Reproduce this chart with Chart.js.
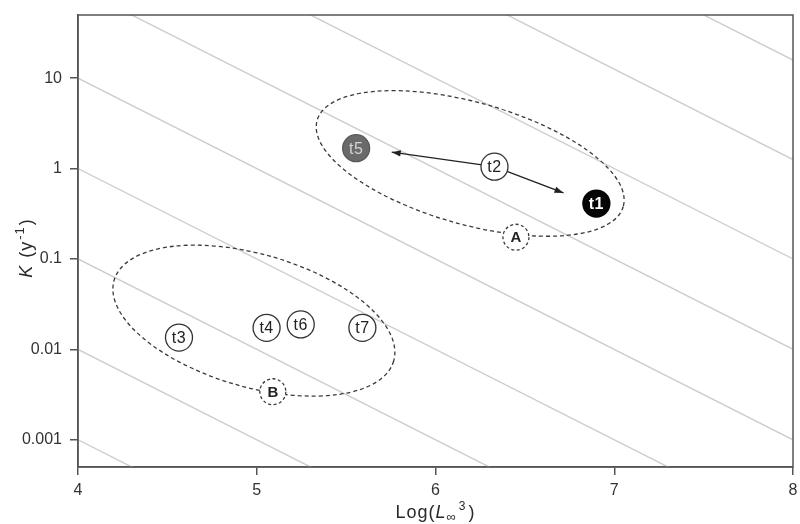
<!DOCTYPE html>
<html>
<head>
<meta charset="utf-8">
<script src="https://cdn.jsdelivr.net/npm/chart.js@4.4.0/dist/chart.umd.min.js"></script>
<style>
  html, body { margin: 0; padding: 0; background: #fff; overflow: hidden; }
  #c { display: block; }
</style>
</head>
<body>
<canvas id="c" width="800" height="524"></canvas>
<script>
// Samples: log10 of asymptotic length cubed vs. growth coefficient K (per year)
const sampleNames = ['t1', 't2', 't3', 't4', 't5', 't6', 't7'];
const logLinf3   = [6.90, 6.33, 4.565, 5.055, 5.556, 5.246, 5.591];
const kValues    = [0.41, 1.05, 0.0135, 0.0173, 1.68, 0.0189, 0.0173];

// Group centroids
const groupNames = ['A', 'B'];
const groupX     = [6.45, 5.09];
const groupK     = [0.174, 0.0034];

// Group envelopes (centre of each dashed ellipse)
const envelopeX  = [6.194, 4.984];
const envelopeK  = [1.14, 0.0208];

// Iso-lines of log10(K) + log10(L∞³)
const isoLevels  = [1, 2, 3, 4, 5, 6, 7, 8.1, 9.2];

// Shifts from t2 towards t5 and t1 (arrow tips)
const arrowFrom  = 't2';
const arrowTo    = ['t5', 't1'];
const arrowTipX  = [5.755, 6.716];
const arrowTipK  = [1.52, 0.538];

// Axis ticks
const xTickValues = [4, 5, 6, 7, 8];
const yTickValues = [0.001, 0.01, 0.1, 1, 10];
const yTickLabels = ['0.001', '0.01', '0.1', '1', '10'];

const FONT = '"Liberation Sans", Arial, sans-serif';
const INK = '#2a2a2a';
const AXIS = '#555555';

const fillFor = n => n === 't1' ? '#050505' : n === 't5' ? '#6a6a6a' : '#ffffff';
const textFor = n => n === 't1' ? '#ffffff' : n === 't5' ? '#d4d4d4' : '#222222';

const fromIdx = sampleNames.indexOf(arrowFrom);

const datasets = [];
// samples (drawn on top)
datasets.push({
  type: 'scatter',
  role: 'samples',
  data: sampleNames.map((n, i) => ({ x: logLinf3[i], y: kValues[i] })),
  pointRadius: 13.5,
  pointHoverRadius: 13.5,
  pointBackgroundColor: sampleNames.map(fillFor),
  pointBorderColor: sampleNames.map(n => n === 't1' ? '#050505' : n === 't5' ? '#5a5a5a' : '#333333'),
  pointBorderWidth: 1.3,
  showLine: false
});
// arrows
arrowTo.forEach((t, j) => {
  datasets.push({
    type: 'line',
    role: 'arrow',
    data: [
      { x: logLinf3[fromIdx], y: kValues[fromIdx] },
      { x: arrowTipX[j], y: arrowTipK[j] }
    ],
    borderColor: '#222222',
    borderWidth: 1.4,
    pointRadius: 0,
    fill: false
  });
});
// iso-lines (drawn first)
isoLevels.forEach(c => {
  datasets.push({
    type: 'line',
    role: 'iso',
    data: [
      { x: 4, y: Math.pow(10, c - 4) },
      { x: 8, y: Math.pow(10, c - 8) }
    ],
    borderColor: '#cdcdcd',
    borderWidth: 1.4,
    pointRadius: 0,
    fill: false
  });
});

let envelopesDrawn = false;

function drawEnvelopes(chart) {
  const ctx = chart.ctx;
  const xs = chart.scales.x, ys = chart.scales.y;
  // pixel radii and tilt of each envelope
  const shape = [
    { a: 159, b: 61, rot: 15.7 },
    { a: 145.5, b: 66.4, rot: 16.1 }
  ];
  ctx.save();
  ctx.strokeStyle = '#3a3a3a';
  ctx.lineWidth = 1.3;
  ctx.setLineDash([4, 3]);
  envelopeX.forEach((x, i) => {
    const px = xs.getPixelForValue(x), py = ys.getPixelForValue(envelopeK[i]);
    ctx.beginPath();
    ctx.ellipse(px, py, shape[i].a, shape[i].b, shape[i].rot * Math.PI / 180, 0, Math.PI * 2);
    ctx.stroke();
  });
  // dashed centroid markers
  groupNames.forEach((g, i) => {
    const px = xs.getPixelForValue(groupX[i]), py = ys.getPixelForValue(groupK[i]);
    ctx.beginPath();
    ctx.arc(px, py, 13, 0, Math.PI * 2);
    ctx.fillStyle = '#ffffff';
    ctx.fill();
    ctx.setLineDash([3, 2.5]);
    ctx.stroke();
    ctx.fillStyle = '#222222';
    ctx.font = 'bold 15px ' + FONT;
    ctx.textAlign = 'center';
    ctx.textBaseline = 'middle';
    ctx.fillText(g, px, py + 1);
  });
  ctx.restore();
}

const decorations = {
  id: 'decorations',
  beforeDraw() { envelopesDrawn = false; },
  beforeDatasetDraw(chart, args) {
    if (!envelopesDrawn && chart.data.datasets[args.index].role === 'arrow') {
      drawEnvelopes(chart);
      envelopesDrawn = true;
    }
  },
  afterDatasetsDraw(chart) {
    const ctx = chart.ctx;
    const xs = chart.scales.x, ys = chart.scales.y;
    ctx.save();
    // arrow heads
    const fx = xs.getPixelForValue(logLinf3[fromIdx]), fy = ys.getPixelForValue(kValues[fromIdx]);
    arrowTipX.forEach((x, j) => {
      const tx = xs.getPixelForValue(x), ty = ys.getPixelForValue(arrowTipK[j]);
      const ang = Math.atan2(ty - fy, tx - fx);
      const L = 9, W = 3.2;
      ctx.beginPath();
      ctx.moveTo(tx, ty);
      ctx.lineTo(tx - L * Math.cos(ang) + W * Math.sin(ang), ty - L * Math.sin(ang) - W * Math.cos(ang));
      ctx.lineTo(tx - L * Math.cos(ang) - W * Math.sin(ang), ty - L * Math.sin(ang) + W * Math.cos(ang));
      ctx.closePath();
      ctx.fillStyle = '#222222';
      ctx.fill();
    });
    // sample labels
    ctx.textAlign = 'center';
    ctx.textBaseline = 'middle';
    ctx.letterSpacing = '0.5px';
    sampleNames.forEach((n, i) => {
      const px = xs.getPixelForValue(logLinf3[i]), py = ys.getPixelForValue(kValues[i]);
      ctx.fillStyle = textFor(n);
      ctx.font = (n === 't1' ? 'bold ' : '') + '16px ' + FONT;
      ctx.fillText(n, px, py + 1);
    });
    ctx.restore();
  },
  afterDraw(chart) {
    const ctx = chart.ctx;
    const a = chart.chartArea;
    ctx.save();
    // frame
    ctx.strokeStyle = AXIS;
    ctx.lineWidth = 1.5;
    ctx.strokeRect(a.left, a.top, a.right - a.left, a.bottom - a.top);

    ctx.fillStyle = INK;
    ctx.textBaseline = 'alphabetic';
    ctx.textAlign = 'left';
    ctx.letterSpacing = '1px';
    // x title: Log(L∞³)
    const big = '18px ' + FONT, bigIt = 'italic 18px ' + FONT, small = '12px ' + FONT, sub = '13px ' + FONT;
    const xParts = [
      { t: 'Log(', f: big, dy: 0, gap: 0 },
      { t: 'L', f: bigIt, dy: 0, gap: 0 },
      { t: '\u221E', f: sub, dy: 3, gap: 2 },
      { t: '3', f: small, dy: -8, gap: 2 },
      { t: ')', f: big, dy: 0, gap: 0 }
    ];
    let w = 0;
    xParts.forEach(p => { ctx.font = p.f; p.w = ctx.measureText(p.t).width + p.gap; w += p.w; });
    let x0 = (a.left + a.right) / 2 - w / 2;
    const by = 518;
    xParts.forEach(p => { ctx.font = p.f; ctx.fillText(p.t, x0, by + p.dy); x0 += p.w; });

    // y title: K (y⁻¹)
    const yParts = [
      { t: 'K', f: bigIt, dy: 0, gap: 1 },
      { t: ' (y', f: big, dy: 0, gap: 1 },
      { t: '-1', f: '13px ' + FONT, dy: -8, gap: 1 },
      { t: ')', f: big, dy: 0, gap: 0 }
    ];
    w = 0;
    yParts.forEach(p => { ctx.font = p.f; p.w = ctx.measureText(p.t).width + p.gap; w += p.w; });
    ctx.translate(32, 248);
    ctx.rotate(-Math.PI / 2);
    x0 = -w / 2;
    yParts.forEach(p => { ctx.font = p.f; ctx.fillText(p.t, x0, p.dy); x0 += p.w; });
    ctx.restore();
  }
};

new Chart(document.getElementById('c'), {
  type: 'scatter',
  data: { datasets },
  options: {
    responsive: false,
    animation: false,
    events: [],
    layout: { autoPadding: false, padding: { top: 15, right: 7, left: 0, bottom: 0 } },
    plugins: { legend: { display: false }, tooltip: { enabled: false } },
    scales: {
      x: {
        type: 'linear',
        min: 4, max: 8,
        afterBuildTicks: s => { s.ticks = xTickValues.map(v => ({ value: v })); },
        afterFit: s => { s.height = 57; s.paddingLeft = 0; s.paddingRight = 0; },
        grid: { drawOnChartArea: false, drawTicks: true, tickLength: 8, color: AXIS, lineWidth: 1.5 },
        border: { display: true, color: AXIS, width: 1.5 },
        ticks: { color: '#333', font: { family: FONT, size: 16 }, padding: 6, maxRotation: 0 }
      },
      y: {
        type: 'logarithmic',
        min: 0.0005, max: 50,
        afterBuildTicks: s => { s.ticks = yTickValues.map(v => ({ value: v })); },
        afterFit: s => { s.width = 78; s.paddingTop = 0; s.paddingBottom = 0; },
        grid: { drawOnChartArea: false, drawTicks: true, tickLength: 8, color: AXIS, lineWidth: 1.5 },
        border: { display: true, color: AXIS, width: 1.5 },
        ticks: {
          color: '#333', font: { family: FONT, size: 16 }, padding: 8,
          callback: v => { const i = yTickValues.indexOf(v); return i >= 0 ? yTickLabels[i] : ''; }
        }
      }
    }
  },
  plugins: [decorations]
});
</script>
</body>
</html>
